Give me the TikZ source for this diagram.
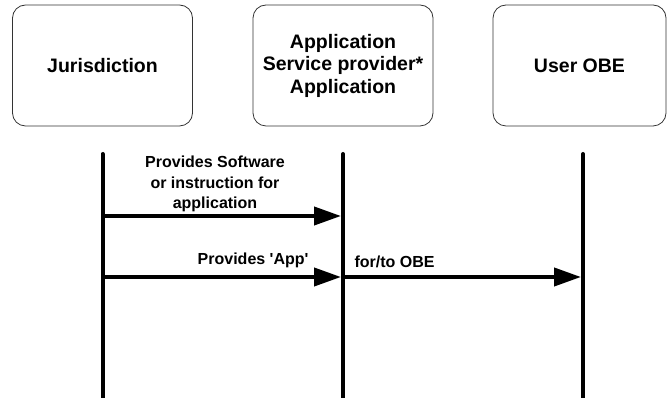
\documentclass[tikz,border=0pt]{standalone}
\usepackage{fontspec}
\setmainfont{Liberation Sans}
\usetikzlibrary{arrows.meta}

\begin{document}
\begin{tikzpicture}[x=1pt,y=1pt]
		\useasboundingbox (0,0) rectangle (668,398);
		\begin{scope}[every node/.style = {rectangle, rounded corners=13pt, draw=black!80, line width=0.8pt, minimum width=180pt, minimum height=121pt, align=center, font=\bfseries\fontsize{19.5}{22.5}\selectfont}]
			\node (J) at (102.5,332.5) {Jurisdiction};
			\node (P) at (343,332.5) {Application\\Service provider*\\Application};
			\node[minimum width=173pt] (U) at (579.5,332.5) {User OBE};
		\end{scope}
		% lifelines
		\coordinate (Jtop) at (102.5,244);
		\coordinate (Jbot) at (102.5,0);
		\coordinate (Ptop) at (343,244);
		\coordinate (Pbot) at (343,0);
		\coordinate (Utop) at (583,244);
		\coordinate (Ubot) at (583,0);
		\coordinate (Ja) at (102.5,182);
		\coordinate (Pa) at (343,182);
		\coordinate (Jb) at (102.5,121);
		\coordinate (Pb) at (343,121);
		\coordinate (Ub) at (583,121);
		\begin{scope}[line width=4pt]
			\draw[line cap=round] (Jtop) -- (Jbot);
			\draw[line cap=round] (Ptop) -- (Pbot);
			\draw[line cap=round] (Utop) -- (Ubot);
		\end{scope}
		\begin{scope}[line width=4pt, >={Triangle[length=27pt, width=18pt]}, shorten >=2pt]
			\path[->] (Ja) edge (Pa);
			\path[->] (Jb) edge (Pb);
			\path[->] (Pb) edge (Ub);
		\end{scope}
		\begin{scope}[every node/.style = {align=center, font=\bfseries\fontsize{16}{20.5}\selectfont}]
			\node (soft) at (215,214) {Provides Software\\or instruction for\\application};
			\node[anchor=east] (app) at (312,138) {Provides \textquotesingle App\textquotesingle};
			\node[anchor=west] (obe) at (351,136) {for/to OBE};
		\end{scope}
	\end{tikzpicture}
\end{document}
